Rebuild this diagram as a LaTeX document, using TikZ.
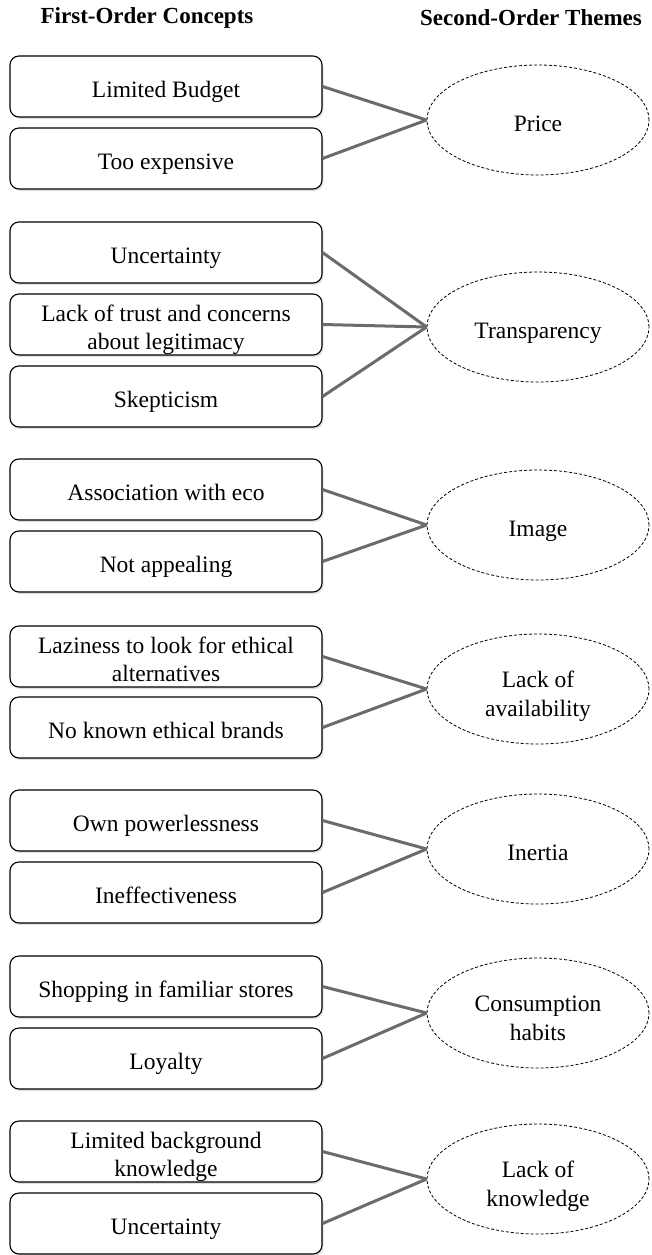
\documentclass[tikz,border=0pt]{standalone}
\usepackage{fontspec}
\setmainfont{Liberation Serif}
\usetikzlibrary{shapes.geometric,shadows}
\begin{document}
\begin{tikzpicture}[x=1pt,y=-1pt,
  concept/.style={draw=black,line width=1.1pt,rounded corners=9pt,fill=white,
    minimum width=312pt,minimum height=61pt,inner sep=0pt,align=center,
    font=\fontsize{23.5}{28}\selectfont,text height=21pt,text depth=0pt,
    drop shadow={opacity=0.25,shadow xshift=1.5pt,shadow yshift=-2pt}},
  twoline/.style={text height=50pt},
  theme/.style={ellipse,draw=black,line width=0.8pt,dash pattern=on 3pt off 2pt,
    minimum width=222pt,minimum height=110pt,inner sep=0pt,align=center,
    font=\fontsize{23.5}{29}\selectfont,text height=22pt,text depth=0pt},
  twotheme/.style={text height=55pt},
  header/.style={font=\fontsize{23}{27}\selectfont\bfseries},
  link/.style={draw=black!58,line width=3pt}]
\useasboundingbox (0,0) rectangle (651,1255);

\node[header] (h1) at (147,18) {First-Order Concepts};
\node[header] (h2) at (531,18) {Second-Order Themes};

% Price
\node[concept] (c1) at (166,86.5) {Limited Budget};
\node[concept] (c2) at (166,158.5) {Too expensive};
\node[theme] (t1) at (538,120) {Price};
\draw[link] (c1.east) -- (t1.west);
\draw[link] (c2.east) -- (t1.west);

% Transparency
\node[concept] (c3) at (166,252.5) {Uncertainty};
\node[concept,twoline] (c4) at (166,324.5) {Lack of trust and concerns\\about legitimacy};
\node[concept] (c5) at (166,396.5) {Skepticism};
\node[theme] (t2) at (538,327) {Transparency};
\draw[link] (c3.east) -- (t2.west);
\draw[link] (c4.east) -- (t2.west);
\draw[link] (c5.east) -- (t2.west);

% Image
\node[concept] (c6) at (166,489.5) {Association with eco};
\node[concept] (c7) at (166,561.5) {Not appealing};
\node[theme] (t3) at (538,525) {Image};
\draw[link] (c6.east) -- (t3.west);
\draw[link] (c7.east) -- (t3.west);

% Lack of availability
\node[concept,twoline] (c8) at (166,656.5) {Laziness to look for ethical\\alternatives};
\node[concept] (c9) at (166,727.5) {No known ethical brands};
\node[theme,twotheme] (t4) at (538,689) {Lack of\\availability};
\draw[link] (c8.east) -- (t4.west);
\draw[link] (c9.east) -- (t4.west);

% Inertia
\node[concept] (c10) at (166,820.5) {Own powerlessness};
\node[concept] (c11) at (166,892.5) {Ineffectiveness};
\node[theme] (t5) at (538,849) {Inertia};
\draw[link] (c10.east) -- (t5.west);
\draw[link] (c11.east) -- (t5.west);

% Consumption habits
\node[concept] (c12) at (166,986.5) {Shopping in familiar stores};
\node[concept] (c13) at (166,1058.5) {Loyalty};
\node[theme,twotheme] (t6) at (538,1013) {Consumption\\habits};
\draw[link] (c12.east) -- (t6.west);
\draw[link] (c13.east) -- (t6.west);

% Lack of knowledge
\node[concept,twoline] (c14) at (166,1151.5) {Limited background\\knowledge};
\node[concept] (c15) at (166,1223.5) {Uncertainty};
\node[theme,twotheme] (t7) at (538,1179) {Lack of\\knowledge};
\draw[link] (c14.east) -- (t7.west);
\draw[link] (c15.east) -- (t7.west);
\end{tikzpicture}
\end{document}
